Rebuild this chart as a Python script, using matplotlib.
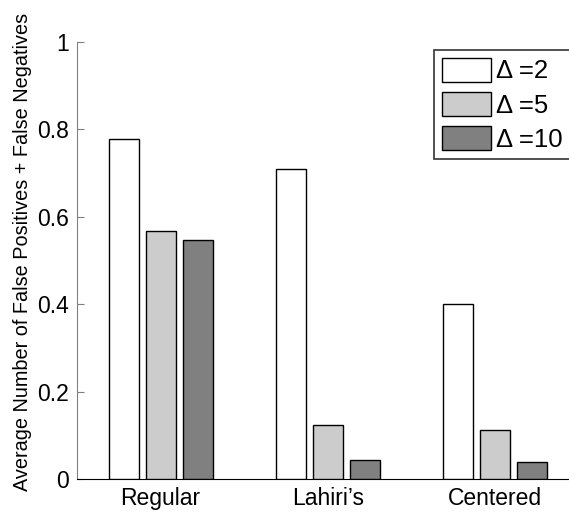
import numpy as np
import matplotlib.pyplot as plt
from matplotlib.patches import Patch

plt.rcParams['font.family'] = ['Liberation Sans', 'DejaVu Sans']

categories = ["Regular", "Lahiri\u2019s", "Centered"]
series_names = ["\u0394 =2", "\u0394 =5", "\u0394 =10"]
delta2 = [0.777, 0.709, 0.400]
delta5 = [0.567, 0.124, 0.112]
delta10 = [0.546, 0.044, 0.040]
colors = ["#ffffff", "#cccccc", "#808080"]

fig = plt.figure(figsize=(5.69, 5.14), dpi=100)
# axes runs past the right edge of the figure, like the cropped original
ax = fig.add_axes([77 / 569, 35 / 514, 502 / 569, 437 / 514])

x = np.arange(1, len(categories) + 1)
width = 0.179
step = 0.221
for i, (vals, c) in enumerate(zip([delta2, delta5, delta10], colors)):
    ax.bar(x + (i - 1) * step, vals, width, color=c, edgecolor="black",
           linewidth=1.0, zorder=3)

ax.set_xlim(0.5, 3.5)
ax.set_ylim(0, 1)
ax.set_xticks(x)
ax.set_xticklabels(categories, fontsize=16.5)
ax.set_yticks([0, 0.2, 0.4, 0.6, 0.8, 1])
ax.set_yticklabels(["0", "0.2", "0.4", "0.6", "0.8", "1"], fontsize=16.5)
ax.tick_params(axis="y", direction="in", length=5, color="#808080", pad=6)
ax.tick_params(axis="x", length=0, pad=6)
ax.spines["top"].set_visible(False)
ax.spines["right"].set_visible(False)
ax.spines["left"].set_color("#808080")
ax.spines["bottom"].set_color("black")
ax.set_ylabel("Average Number of False Positives + False Negatives",
              fontsize=14.3)
ax.yaxis.set_label_coords(-45 / 502, 0.52)

handles = [Patch(facecolor=c, edgecolor="black", linewidth=1.0) for c in colors]
leg = fig.legend(handles, series_names, loc="upper left",
                 bbox_to_anchor=(434 / 569, 1 - 50 / 514), fontsize=18.5,
                 frameon=True, fancybox=False, edgecolor="black",
                 handlelength=1.9, handleheight=1.05, handletextpad=0.2,
                 borderpad=0.3, labelspacing=0.33, borderaxespad=0)
leg.get_frame().set_linewidth(1.2)

fig.savefig("out.png", dpi=100)
